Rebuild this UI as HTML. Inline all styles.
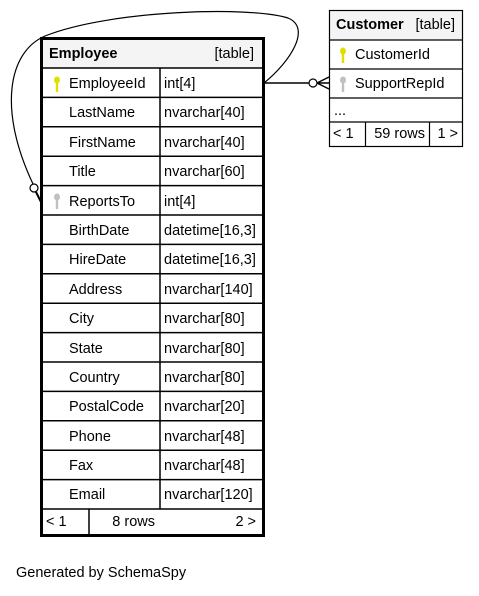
<!DOCTYPE html>
<html><head><style>
html,body{margin:0;padding:0;background:#fff;}
svg text{font-family:"Liberation Sans",Arial,sans-serif;font-size:14.5px;fill:#000;}
</style></head><body>
<svg width="479" height="591" viewBox="0 0 479 591" xmlns="http://www.w3.org/2000/svg">
<defs>
<g id="key"><ellipse cx="0" cy="-4" rx="3" ry="3.5"/><rect x="-1.2" y="-1" width="2.4" height="9"/></g>
</defs>
<!-- connectors -->
<path d="M264,83 C290,62 312,28 288,18 C250,6 110,10 45,36 C8,52 -2,110 33,184" fill="none" stroke="#000" stroke-width="1.2"/>
<circle cx="34" cy="188" r="4" fill="#fff" stroke="#000" stroke-width="1.2"/>
<path d="M36,192 L42,204 L38,196 Z" fill="#000" stroke="#000" stroke-width="2"/>
<line x1="264" y1="83" x2="309" y2="83" stroke="#000" stroke-width="1.5"/>
<circle cx="313" cy="83" r="4" fill="#fff" stroke="#000" stroke-width="1.2"/>
<path d="M317,83 L329,77 M317,83 L329,83 M317,83 L329,89" stroke="#000" stroke-width="1.5"/>

<!-- Employee -->
<rect x="42" y="39" width="221" height="29" fill="#f4f4f4"/>
<g stroke="#000" stroke-width="1.5" fill="none">
<line x1="42" y1="68" x2="263" y2="68"/>
<line x1="160" y1="68" x2="160" y2="509"/>
<line x1="89" y1="509" x2="89" y2="534"/>
</g>
<g stroke="#000" stroke-width="1.5">
<line x1="42" y1="97.4" x2="263" y2="97.4"/><line x1="42" y1="126.8" x2="263" y2="126.8"/>
<line x1="42" y1="156.2" x2="263" y2="156.2"/><line x1="42" y1="185.6" x2="263" y2="185.6"/>
<line x1="42" y1="215" x2="263" y2="215"/><line x1="42" y1="244.4" x2="263" y2="244.4"/>
<line x1="42" y1="273.8" x2="263" y2="273.8"/><line x1="42" y1="303.2" x2="263" y2="303.2"/>
<line x1="42" y1="332.6" x2="263" y2="332.6"/><line x1="42" y1="362" x2="263" y2="362"/>
<line x1="42" y1="391.4" x2="263" y2="391.4"/><line x1="42" y1="420.8" x2="263" y2="420.8"/>
<line x1="42" y1="450.2" x2="263" y2="450.2"/><line x1="42" y1="479.6" x2="263" y2="479.6"/>
<line x1="42" y1="509" x2="263" y2="509"/>
</g>
<rect x="41.5" y="38.5" width="222" height="497" fill="none" stroke="#000" stroke-width="3"/>
<text x="49" y="58" font-weight="bold">Employee</text>
<text x="254" y="58" text-anchor="end">[table]</text>
<use href="#key" x="57" y="84" fill="#e0e000"/>
<use href="#key" x="57" y="201" fill="#c0c0c0"/>
<g>
<text x="69" y="88">EmployeeId</text><text x="164" y="88">int[4]</text>
<text x="69" y="117">LastName</text><text x="164" y="117">nvarchar[40]</text>
<text x="69" y="147">FirstName</text><text x="164" y="147">nvarchar[40]</text>
<text x="69" y="176">Title</text><text x="164" y="176">nvarchar[60]</text>
<text x="69" y="206">ReportsTo</text><text x="164" y="206">int[4]</text>
<text x="69" y="235">BirthDate</text><text x="164" y="235">datetime[16,3]</text>
<text x="69" y="264">HireDate</text><text x="164" y="264">datetime[16,3]</text>
<text x="69" y="294">Address</text><text x="164" y="294">nvarchar[140]</text>
<text x="69" y="323">City</text><text x="164" y="323">nvarchar[80]</text>
<text x="69" y="353">State</text><text x="164" y="353">nvarchar[80]</text>
<text x="69" y="382">Country</text><text x="164" y="382">nvarchar[80]</text>
<text x="69" y="411">PostalCode</text><text x="164" y="411">nvarchar[20]</text>
<text x="69" y="441">Phone</text><text x="164" y="441">nvarchar[48]</text>
<text x="69" y="470">Fax</text><text x="164" y="470">nvarchar[48]</text>
<text x="69" y="499">Email</text><text x="164" y="499">nvarchar[120]</text>
<text x="46" y="526">&lt; 1</text><text x="155" y="526" text-anchor="end">8 rows</text>
<text x="256" y="526" text-anchor="end">2 &gt;</text>
</g>

<!-- Customer -->
<rect x="330" y="11" width="132" height="29" fill="#f4f4f4"/>
<g stroke="#000" stroke-width="1.2" fill="none">
<rect x="329.5" y="10.5" width="133" height="136"/>
<line x1="330" y1="40" x2="462" y2="40"/>
<line x1="330" y1="69" x2="462" y2="69"/>
<line x1="330" y1="98" x2="462" y2="98"/>
<line x1="330" y1="122" x2="462" y2="122"/>
<line x1="365.5" y1="122" x2="365.5" y2="146"/>
<line x1="429.5" y1="122" x2="429.5" y2="146"/>
</g>
<text x="336" y="29" font-weight="bold">Customer</text>
<text x="455" y="29" text-anchor="end">[table]</text>
<use href="#key" x="343" y="55" fill="#e0e000"/>
<use href="#key" x="343" y="84" fill="#c0c0c0"/>
<text x="355" y="59">CustomerId</text>
<text x="355" y="88">SupportRepId</text>
<text x="334" y="115">...</text>
<text x="333" y="138">&lt; 1</text>
<text x="425" y="138" text-anchor="end">59 rows</text>
<text x="458" y="138" text-anchor="end">1 &gt;</text>

<text x="16" y="577">Generated by SchemaSpy</text>
</svg>
</body></html>
